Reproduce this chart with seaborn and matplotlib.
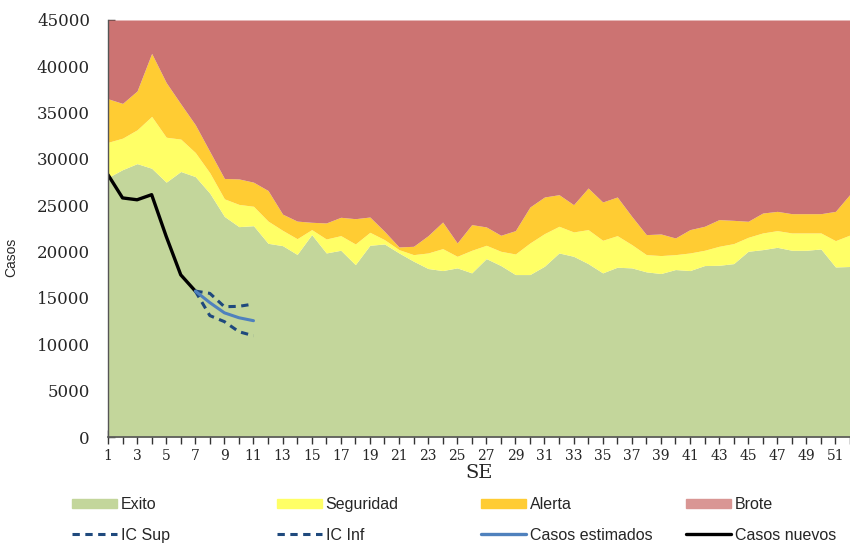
import numpy as np
import pandas as pd
import matplotlib
matplotlib.use("Agg")
import matplotlib.pyplot as plt
import seaborn as sns
from matplotlib.patches import Patch
from matplotlib.lines import Line2D

# ---------------- data ----------------
semanas = list(range(1, 53))
exito = [28000, 28850, 29500, 29000, 27500, 28650, 28100, 26300, 23800, 22700,
         22800, 20900, 20650, 19700, 21840, 19860, 20150, 18600, 20690, 20830,
         19860, 18970, 18180, 17960, 18250, 17710, 19250, 18500, 17530, 17530,
         18430, 19860, 19500, 18710, 17710, 18320, 18250, 17820, 17640, 18070,
         17960, 18500, 18530, 18710, 20040, 20220, 20470, 20150, 20150, 20290,
         18350, 18400]
seguridad = [31800, 32250, 33150, 34600, 32350, 32150, 30700, 28500, 25700, 25100,
             24900, 23300, 22300, 21400, 22380, 21370, 21730, 20830, 22090, 21300,
             20220, 19680, 19860, 20330, 19500, 20150, 20690, 20040, 19750, 20940,
             21950, 22740, 22130, 22380, 21230, 21730, 20760, 19680, 19580, 19680,
             19860, 20150, 20580, 20870, 21550, 22020, 22270, 22020, 22020, 22020,
             21190, 21800]
alerta = [36500, 36000, 37350, 41400, 38250, 35950, 33700, 30800, 27900, 27850,
          27500, 26600, 24050, 23300, 23170, 23100, 23710, 23560, 23740, 22200,
          20510, 20580, 21730, 23200, 20940, 22920, 22670, 21770, 22270, 24820,
          25900, 26150, 25070, 26870, 25360, 25900, 23810, 21840, 21910, 21480,
          22380, 22740, 23460, 23380, 23280, 24170, 24350, 24100, 24100, 24100,
          24350, 26200]
brote = [45000] * 52

sem_nuevos = [1, 2, 3, 4, 5, 6, 7]
casos_nuevos = [28300, 25800, 25600, 26150, 21650, 17500, 15750]
sem_est = [7, 8, 9, 10, 11]
casos_estimados = [15750, 14500, 13400, 12870, 12550]
ic_sup = [15750, 15500, 14060, 14100, 14350]
ic_inf = [15750, 13100, 12450, 11360, 10930]

y_ticks = [0, 5000, 10000, 15000, 20000, 25000, 30000, 35000, 40000, 45000]
x_labels = list(range(1, 52, 2))

# ---------------- style ----------------
sns.set_theme(style="white")
plt.rcParams['font.family'] = ['DejaVu Serif']

c_exito = "#C3D69B"
c_seg = "#FFFF66"
c_alerta = "#FFCC33"
c_brote = "#CC7372"
c_ic = "#1F497D"
c_est = "#4F81BD"
dash = (0, (2.4, 1.8))

fig = plt.figure(figsize=(8.5, 5.45), dpi=100)
ax = fig.add_axes([108 / 850, (545 - 437) / 545, 1 - 108 / 850, 417 / 545])

x = np.array(semanas)
zero = np.zeros(len(x))
ax.fill_between(x, zero, exito, color=c_exito, lw=0)
ax.fill_between(x, exito, seguridad, color=c_seg, lw=0)
ax.fill_between(x, seguridad, alerta, color=c_alerta, lw=0)
ax.fill_between(x, alerta, brote, color=c_brote, lw=0)

df_n = pd.DataFrame({"SE": sem_nuevos, "v": casos_nuevos})
df_e = pd.DataFrame({"SE": sem_est, "est": casos_estimados, "sup": ic_sup, "inf": ic_inf})
sns.lineplot(data=df_n, x="SE", y="v", ax=ax, color="black", lw=2.4)
sns.lineplot(data=df_e, x="SE", y="sup", ax=ax, color=c_ic, lw=2.2, linestyle=dash)
sns.lineplot(data=df_e, x="SE", y="inf", ax=ax, color=c_ic, lw=2.2, linestyle=dash)
sns.lineplot(data=df_e, x="SE", y="est", ax=ax, color=c_est, lw=2.2)

ax.set_xlim(1, 51.48)
ax.set_ylim(0, 45000)
ax.set_yticks(y_ticks)
ax.set_yticklabels([str(v) for v in y_ticks], fontsize=12, family="DejaVu Serif")
ax.set_xticks(semanas, minor=True)
ax.set_xticks(x_labels)
ax.set_xticklabels([str(v) for v in x_labels], fontsize=10, family="DejaVu Serif")
ax.tick_params(axis="x", which="both", direction="inout", length=10, width=1,
               color="#333333", pad=4, bottom=True)
ax.tick_params(axis="y", direction="in", length=5, width=1, color="#333333", pad=13, left=True)

for s in ["top", "right"]:
    ax.spines[s].set_visible(False)
ax.spines["left"].set_color("#555555")
ax.spines["bottom"].set_color("#555555")
ax.spines["left"].set_linewidth(1)
ax.spines["bottom"].set_linewidth(1.2)

ax.set_xlabel("SE", fontsize=14, family="DejaVu Serif", labelpad=0)
ax.set_ylabel("Casos", fontsize=10, family="Liberation Sans")
ax.yaxis.set_label_coords((18 - 108) / 742, (437 - 257) / 417)

# ---------------- legend (4 columns, 2 rows) ----------------
cols = [
    [(Patch(color=c_exito), "Exito"), (Line2D([], [], color=c_ic, lw=2.2, ls=dash), "IC Sup")],
    [(Patch(color=c_seg), "Seguridad"), (Line2D([], [], color=c_ic, lw=2.2, ls=dash), "IC Inf")],
    [(Patch(color=c_alerta), "Alerta"), (Line2D([], [], color=c_est, lw=2.4), "Casos estimados")],
    [(Patch(color="#D99694"), "Brote"), (Line2D([], [], color="black", lw=2.4), "Casos nuevos")],
]
xs = [72, 277, 481, 686]
for xpos, col in zip(xs, cols):
    hs = [h for h, _ in col]
    ls = [l for _, l in col]
    fig.legend(hs, ls, loc="upper left", bbox_to_anchor=(xpos / 850, 1 - 497 / 545),
               frameon=False, borderpad=0, borderaxespad=0, handlelength=2.8,
               handleheight=0.55, handletextpad=0.25, labelspacing=0.98,
               prop={"family": "Liberation Sans", "size": 11.5})

fig.savefig("out.png", dpi=100)
